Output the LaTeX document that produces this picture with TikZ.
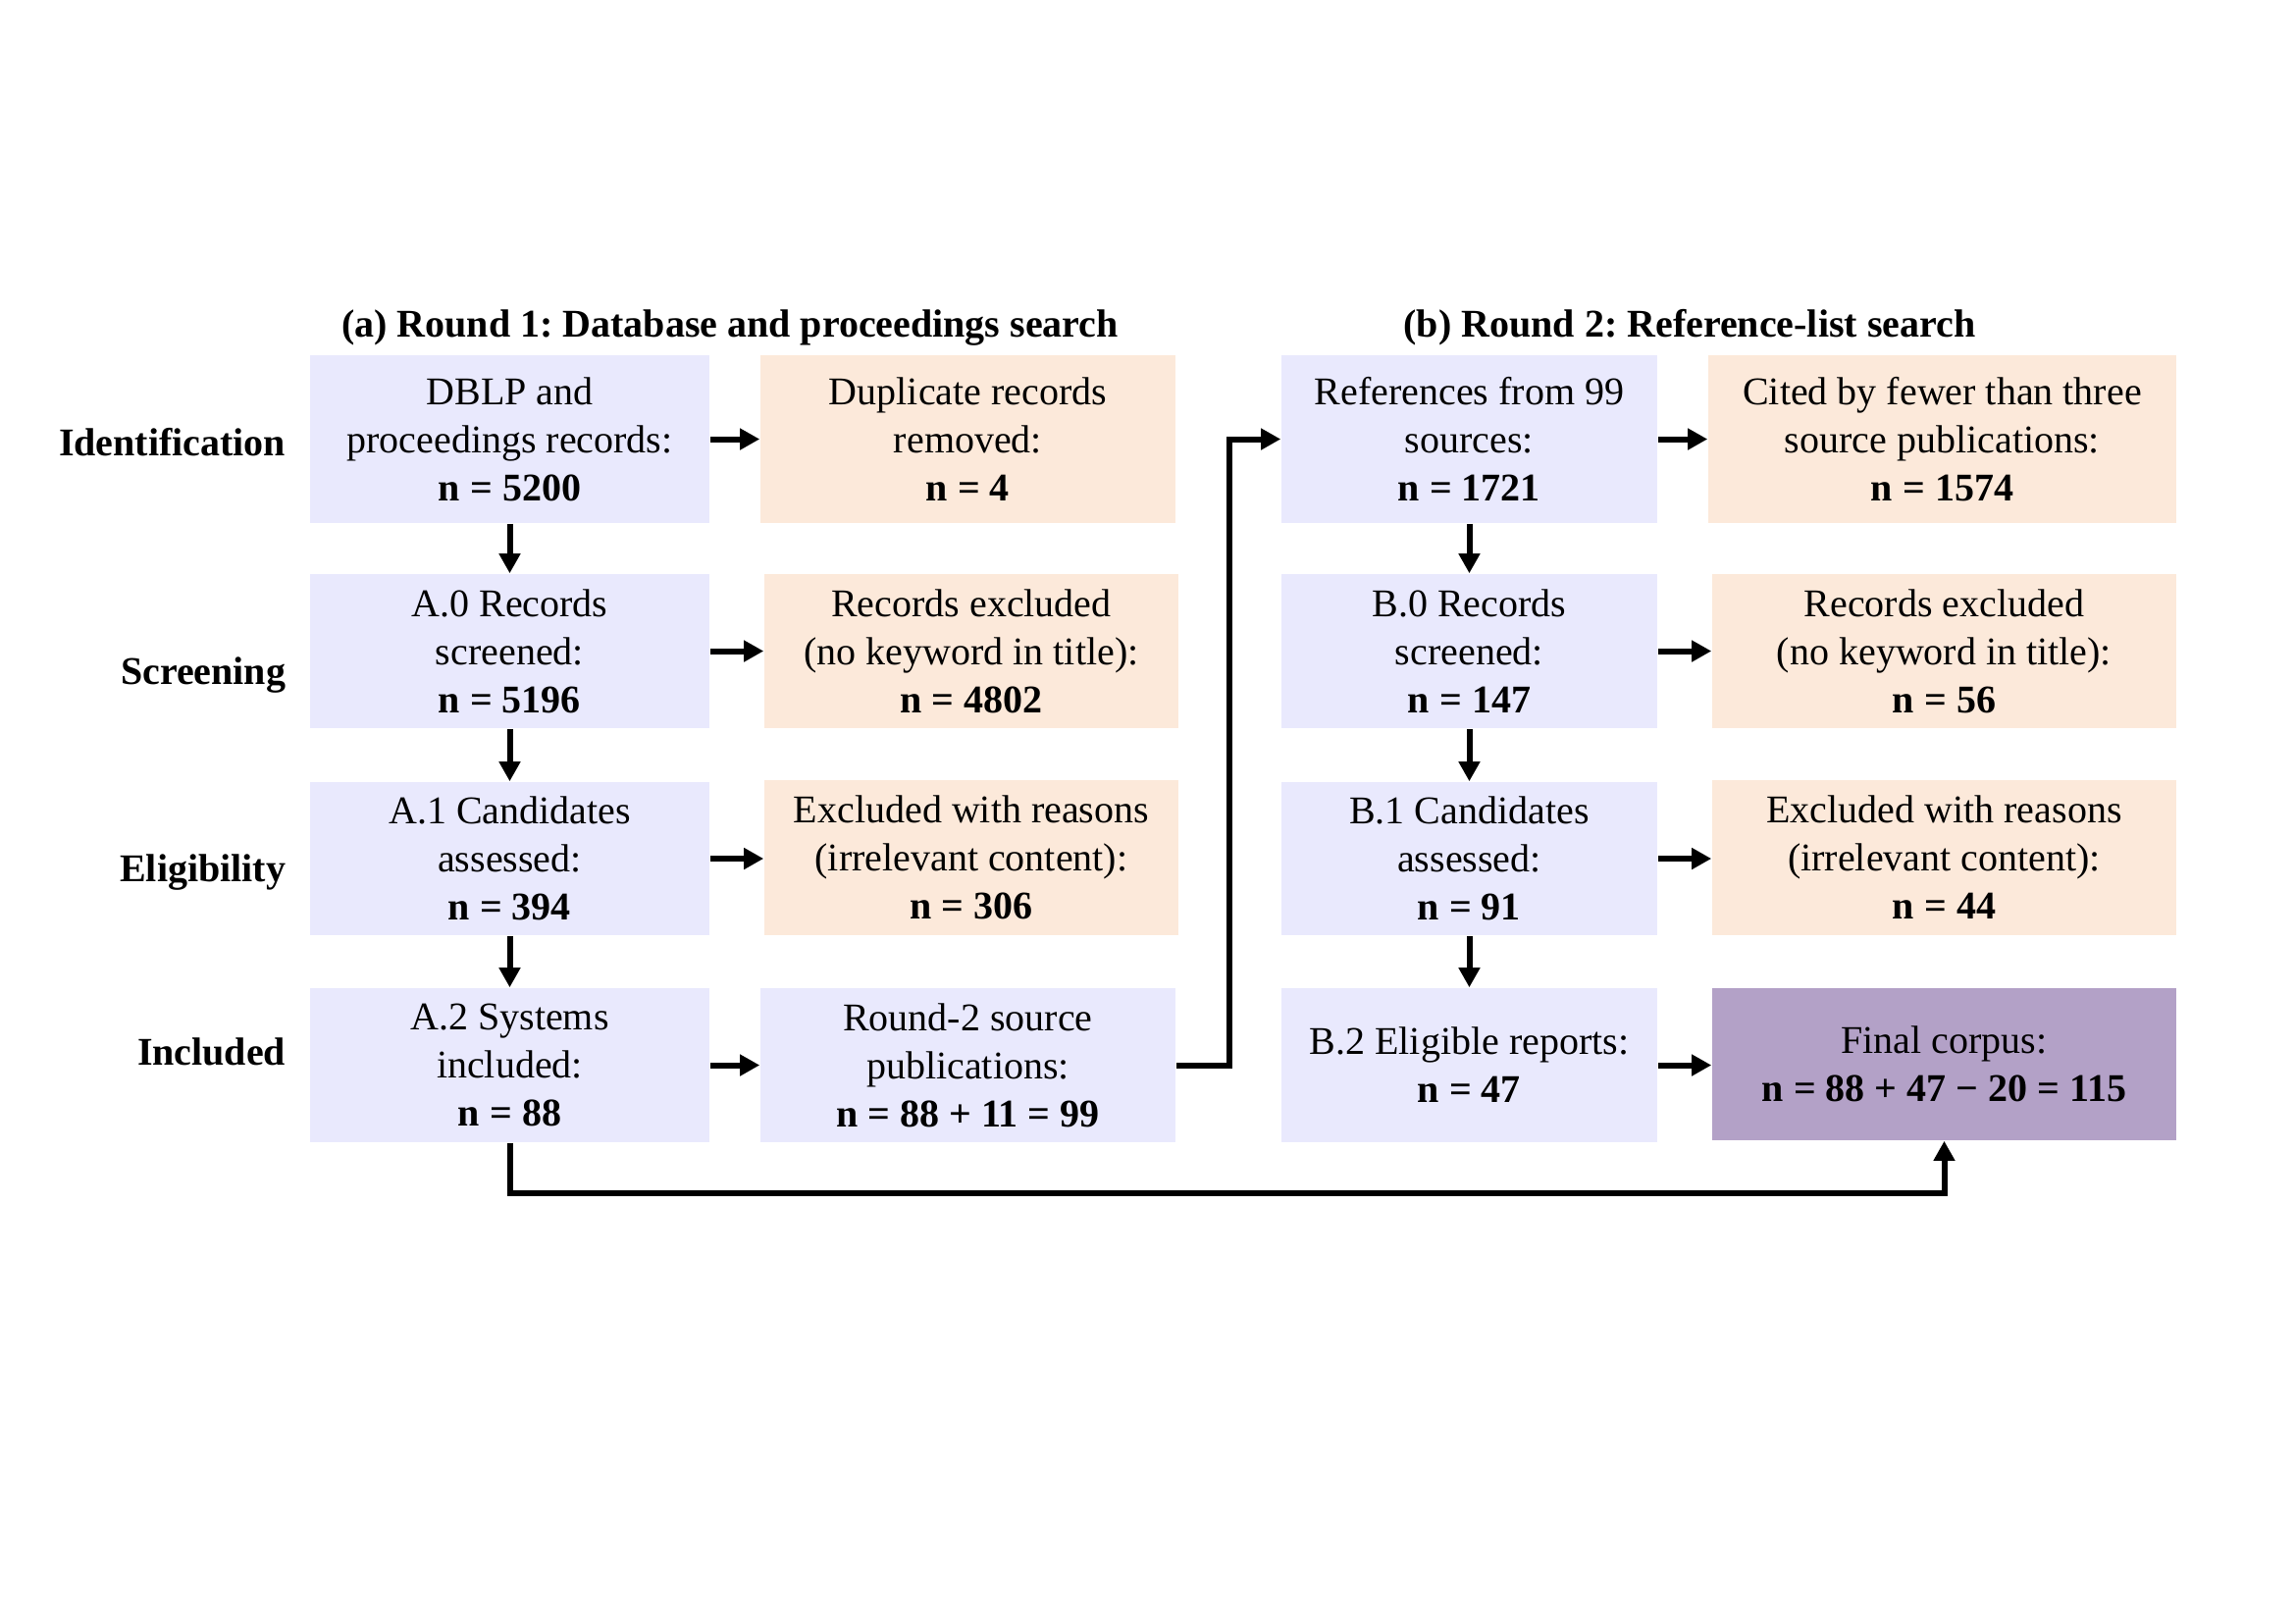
\documentclass[tikz,border=0pt]{standalone}
\usepackage{fontspec}
\setmainfont{Liberation Serif}
\usetikzlibrary{arrows.meta}
\definecolor{lav}{HTML}{E9E9FD}
\definecolor{peach}{HTML}{FCE9DA}
\definecolor{purp}{HTML}{B3A1C7}
\frenchspacing
\begin{document}
\begin{tikzpicture}[x=0.25pt,y=-0.25pt,
  every node/.style={font=\fontsize{10}{12.25}\selectfont},
  box/.style={inner sep=0pt, align=center},
  bx/.style 2 args={minimum width=#1*0.25pt, minimum height=#2*0.25pt},
  lbl/.style={anchor=base east, inner sep=0pt, font=\fontsize{10}{12.25}\selectfont\bfseries},
  ttl/.style={anchor=base, inner sep=0pt, font=\fontsize{10}{12.25}\selectfont\bfseries},
  arr/.style={line width=1.5pt, -{Triangle[length=5pt,width=5.2pt]}},
  conn/.style={line width=1.5pt}]
\useasboundingbox (0,0) rectangle (2339,1654);
% titles
\node[ttl] (ta) at (744,343) {(a) Round 1: Database and proceedings search};
\node[ttl] (tb) at (1722,343) {(b) Round 2: Reference-list search};
% row labels
\node[lbl] (l1) at (292,464) {Identification};
\node[lbl] (l2) at (292,697) {Screening};
\node[lbl] (l3) at (292,898) {Eligibility};
\node[lbl] (l4) at (292,1085) {Included};
% column 1
\node[box, fill=lav, bx={407}{171}] (a1) at (519.5,447.5) {DBLP and\\proceedings records:\\\textbf{n = 5200}};
\node[box, fill=lav, bx={407}{157}] (a2) at (519.5,663.5) {A.0 Records\\screened:\\\textbf{n = 5196}};
\node[box, fill=lav, bx={407}{156}] (a3) at (519.5,875) {A.1 Candidates\\assessed:\\\textbf{n = 394}};
\node[box, fill=lav, bx={407}{157}] (a4) at (519.5,1085.5) {A.2 Systems\\included:\\\textbf{n = 88}};
% column 2
\node[box, fill=peach, bx={423}{171}] (d1) at (986.5,447.5) {Duplicate records\\removed:\\\textbf{n = 4}};
\node[box, fill=peach, bx={422}{157}] (d2) at (990,663.5) {Records excluded\\(no keyword in title):\\\textbf{n = 4802}};
\node[box, fill=peach, bx={422}{158}] (d3) at (990,874) {Excluded with reasons\\(irrelevant content):\\\textbf{n = 306}};
\node[box, fill=lav, bx={423}{157}] (d4) at (986.5,1085.5) {Round-2 source\\publications:\\\textbf{n = 88 + 11 = 99}};
% column 3
\node[box, fill=lav, bx={383}{171}] (b1) at (1497.5,447.5) {References from 99\\sources:\\\textbf{n = 1721}};
\node[box, fill=lav, bx={383}{157}] (b2) at (1497.5,663.5) {B.0 Records\\screened:\\\textbf{n = 147}};
\node[box, fill=lav, bx={383}{156}] (b3) at (1497.5,875) {B.1 Candidates\\assessed:\\\textbf{n = 91}};
\node[box, fill=lav, bx={383}{157}] (b4) at (1497.5,1085.5) {B.2 Eligible reports:\\\textbf{n = 47}};
% column 4
\node[box, fill=peach, bx={477}{171}] (c1) at (1979.5,447.5) {Cited by fewer than three\\source publications:\\\textbf{n = 1574}};
\node[box, fill=peach, bx={473}{157}] (c2) at (1981.5,663.5) {Records excluded\\(no keyword in title):\\\textbf{n = 56}};
\node[box, fill=peach, bx={473}{158}] (c3) at (1981.5,874) {Excluded with reasons\\(irrelevant content):\\\textbf{n = 44}};
\node[box, fill=purp, bx={473}{155}] (fin) at (1981.5,1084.5) {Final corpus:\\\textbf{n = 88 + 47 − 20 = 115}};
% vertical arrows
\draw[arr] (a1.south) -- (a2.north);
\draw[arr] (a2.south) -- (a3.north);
\draw[arr] (a3.south) -- (a4.north);
\draw[arr] (b1.south) -- (b2.north);
\draw[arr] (b2.south) -- (b3.north);
\draw[arr] (b3.south) -- (b4.north);
% horizontal arrows
\draw[arr] (a1.east) -- (a1.east -| d1.west);
\draw[arr] (a2.east) -- (a2.east -| d2.west);
\draw[arr] (a3.east) -- (a3.east -| d3.west);
\draw[arr] (a4.east) -- (a4.east -| d4.west);
\draw[arr] (b1.east) -- (b1.east -| c1.west);
\draw[arr] (b2.east) -- (b2.east -| c2.west);
\draw[arr] (b3.east) -- (b3.east -| c3.west);
\draw[arr] (b4.east) -- (b4.east -| fin.west);
% connectors
\draw[arr] (d4.east) -- ++(54,0) |- (b1.west);
\draw[arr] (a4.south) -- ++(0,51) -| (fin.south);
\end{tikzpicture}
\end{document}
